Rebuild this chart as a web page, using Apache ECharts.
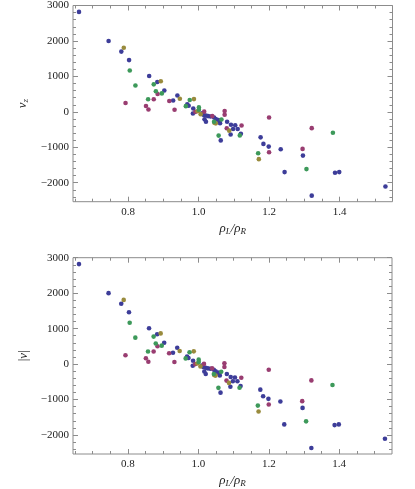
<!DOCTYPE html>
<html>
<head>
<meta charset="utf-8">
<script src="https://cdn.jsdelivr.net/npm/echarts@6/dist/echarts.min.js"></script>
<style>
  html, body { margin: 0; padding: 0; background: #fff; }
  #chart { width: 415px; height: 489px; }
</style>
</head>
<body>
<div id="chart"></div>
<script>
// points, one list per colour: [rhoL/rhoR, v]
const blue = [
  [0.661, 2820], [0.745, 2000], [0.781, 1700], [0.803, 1460], [0.860, 1010],
  [0.883, 840], [0.903, 600], [0.928, 320], [0.940, 460], [0.968, 215],
  [0.972, 170], [0.985, 95], [0.984, -45], [1.010, -40], [1.014, -85],
  [1.021, -105], [1.017, -210], [1.021, -280], [1.027, -120], [1.034, -130],
  [1.044, -160], [1.049, -205], [1.056, -235], [1.059, -270], [1.061, -320],
  [1.081, -280], [1.092, -365], [1.104, -380], [1.098, -485], [1.111, -485],
  [1.120, -620], [1.091, -640], [1.063, -805], [1.176, -720], [1.184, -905],
  [1.199, -980], [1.233, -1055], [1.244, -1700], [1.296, -1235], [1.321, -2365],
  [1.387, -1720], [1.399, -1700], [1.530, -2105]
];
const magenta = [
  [0.793, 250], [0.884, 505], [0.873, 355], [0.851, 165], [0.858, 65],
  [0.917, 305], [0.932, 60], [0.991, 0], [1.016, 5], [1.039, -120],
  [1.074, 25], [1.074, -80], [1.080, -465], [1.122, -385], [1.200, -160],
  [1.200, -1140], [1.295, -1045], [1.321, -460]
];
const gold = [
  [0.788, 1810], [0.893, 865], [0.947, 370], [0.987, 360], [0.997, 15],
  [1.006, -65], [1.045, -310], [1.049, -325], [1.087, -530], [1.171, -1335]
];
const green = [
  [0.805, 1165], [0.821, 745], [0.873, 775], [0.879, 580], [0.896, 520],
  [0.857, 355], [0.975, 335], [0.964, 160], [1.001, 125], [1.001, 60],
  [1.044, -280], [1.065, -215], [1.057, -670], [1.117, -665], [1.169, -1170],
  [1.306, -1615], [1.381, -590]
];

const xMajor = [0.8, 1.0, 1.2, 1.4];
const xMinor = [0.65, 0.7, 0.75, 0.85, 0.9, 0.95, 1.05, 1.1, 1.15, 1.25, 1.3, 1.35, 1.45, 1.5];
const yMajor = [-2000, -1000, 0, 1000, 2000, 3000];
const yMinor = [-2400, -2200, -1800, -1600, -1400, -1200, -800, -600, -400, -200,
  200, 400, 600, 800, 1200, 1400, 1600, 1800, 2200, 2400, 2600, 2800];

const xMin = 0.644, xMax = 1.55, yMin = -2535, yMax = 3000;

const frame = '#8c8c8c';
const serif = 'Liberation Serif';
const tickText = { fontFamily: serif, fontSize: 11, color: '#222' };
const rich = {
  i: { fontFamily: serif, fontStyle: 'italic', fontSize: 13, color: '#222' },
  n: { fontFamily: serif, fontSize: 13, color: '#222' },
  s: { fontFamily: serif, fontStyle: 'italic', fontSize: 9, color: '#222', padding: [6, 0, 0, 0] }
};

const fmtY = v => (v < 0 ? '\u2212' + (-v) : String(v));

function tickAxis(g, pos, values, len, extra) {
  return Object.assign({
    gridIndex: g,
    type: 'value',
    position: pos,
    axisLine: { show: false, onZero: false },
    splitLine: { show: false },
    axisTick: { inside: true, length: len, customValues: values, lineStyle: { color: frame } },
    axisLabel: { show: false }
  }, extra);
}

function xAxes(g, name) {
  const r = { min: xMin, max: xMax };
  return [
    tickAxis(g, 'bottom', xMajor, 5, Object.assign({
      name: name,
      nameLocation: 'middle',
      nameGap: 19,
      nameTextStyle: { rich: rich },
      axisLabel: Object.assign({ customValues: xMajor, margin: 5, formatter: v => v.toFixed(1) }, tickText)
    }, r)),
    tickAxis(g, 'bottom', xMinor, 3, r),
    tickAxis(g, 'top', xMajor, 5, r),
    tickAxis(g, 'top', xMinor, 3, r)
  ];
}

function yAxes(g, name) {
  const r = { min: yMin, max: yMax };
  return [
    tickAxis(g, 'left', yMajor, 5, Object.assign({
      name: name,
      nameLocation: 'middle',
      nameGap: 36,
      nameRotate: 90,
      nameTextStyle: { rich: rich },
      axisLabel: Object.assign({ customValues: yMajor, margin: 4, formatter: fmtY }, tickText)
    }, r)),
    tickAxis(g, 'left', yMinor, 3, r),
    tickAxis(g, 'right', yMajor, 5, r),
    tickAxis(g, 'right', yMinor, 3, r)
  ];
}

const groups = [
  { data: blue, color: '#3d3d99' },
  { data: magenta, color: '#993d71' },
  { data: gold, color: '#998b3d' },
  { data: green, color: '#3d995a' }
];

function seriesFor(g) {
  return groups.map(s => ({
    type: 'scatter',
    xAxisIndex: g * 4,
    yAxisIndex: g * 4,
    data: s.data,
    symbolSize: 4.6,
    itemStyle: { color: s.color, opacity: 1 },
    silent: true
  }));
}

const chart = echarts.init(document.getElementById('chart'));
chart.setOption({
  animation: false,
  grid: [
    { left: 73, top: 5, width: 319.5, height: 196.7, show: true, borderColor: frame, borderWidth: 1, containLabel: false },
    { left: 73, top: 257.7, width: 319, height: 197, show: true, borderColor: frame, borderWidth: 1, containLabel: false }
  ],
  xAxis: [].concat(xAxes(0, '{i|ρ}{s|L}{i|/ρ}{s|R}'), xAxes(1, '{i|ρ}{s|L}{i|/ρ}{s|R}')),
  yAxis: [].concat(yAxes(0, '{i|v}{s|z}'), yAxes(1, '{n||}{i|v}{n||}')),
  series: [].concat(seriesFor(0), seriesFor(1))
});
</script>
</body>
</html>
